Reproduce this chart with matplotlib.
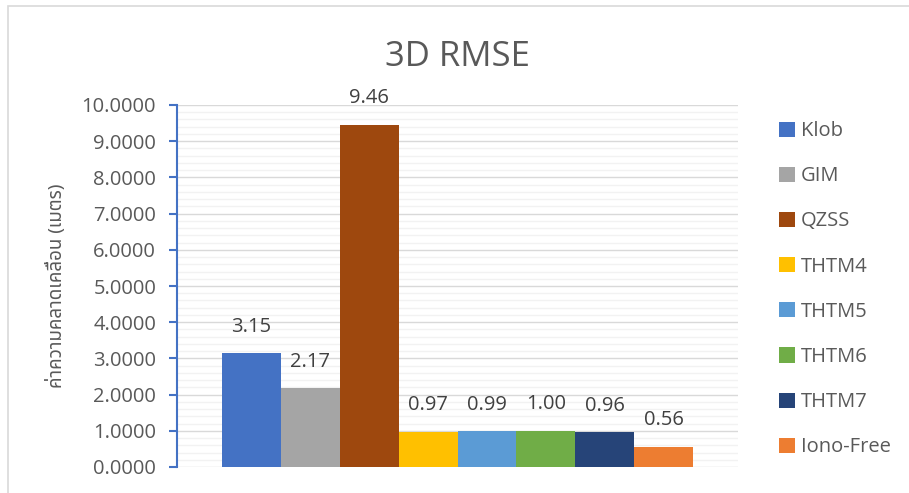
import matplotlib
matplotlib.use("Agg")
import matplotlib.pyplot as plt
import numpy as np
from matplotlib import font_manager as fm
from matplotlib.patches import Rectangle
from matplotlib.ticker import MultipleLocator, FormatStrFormatter

series = ["Klob", "GIM", "QZSS", "THTM4", "THTM5", "THTM6", "THTM7", "Iono-Free"]
rmse = [3.15, 2.17, 9.46, 0.97, 0.99, 1.00, 0.96, 0.56]
colors = ["#4472C4", "#A5A5A5", "#9E480E", "#FFC000",
          "#5B9BD5", "#70AD47", "#264478", "#ED7D31"]

title = "3D RMSE"
ylabel = "ค่าความคลาดเคลื่อน (เมตร)"

# pick a font that can draw Thai for the axis label
installed = {f.name for f in fm.fontManager.ttflist}
thai_font = "DejaVu Sans"
for name in ["Noto Sans Thai", "Sarabun", "Bai Jamjuree", "Anuphan", "Athiti"]:
    if name in installed:
        thai_font = name
        break

plt.rcParams["font.family"] = ["Open Sans", "DejaVu Sans"]
txt = "#595959"

fig = plt.figure(figsize=(9.09, 4.93), dpi=100)
ax = fig.add_axes([177 / 909, 1 - 467 / 493, 561 / 909, 362 / 493])

n = len(series)
pos = np.arange(n) - (n - 1) / 2
bars = ax.bar(pos, rmse, width=1.0, color=colors, label=series, zorder=3)

for b, v in zip(bars, rmse):
    ax.annotate(f"{v:.2f}", (b.get_x() + b.get_width() / 2, v),
                xytext=(0, 19), textcoords="offset points",
                ha="center", va="center", fontsize=14.5, color="#404040")

gap = 0.763
ax.set_xlim(pos[0] - 0.5 - gap, pos[-1] + 0.5 + gap)
ax.set_ylim(0, 10)
ax.yaxis.set_major_locator(MultipleLocator(1))
ax.yaxis.set_minor_locator(MultipleLocator(0.2))
ax.yaxis.set_major_formatter(FormatStrFormatter("%.4f"))
ax.grid(axis="y", which="major", color="#D9D9D9", linewidth=1.0, zorder=0)
ax.grid(axis="y", which="minor", color="#F2F2F2", linewidth=1.0, zorder=0)
ax.set_axisbelow(True)

ax.set_xticks([])
for s in ["top", "right", "bottom"]:
    ax.spines[s].set_visible(False)
ax.spines["left"].set_color("#4472C4")
ax.spines["left"].set_linewidth(1.5)
ax.tick_params(axis="y", which="major", direction="out", length=6, width=1.5,
               color="#4472C4", labelsize=14.5, labelcolor=txt, pad=9)
ax.tick_params(axis="y", which="minor", length=0)

ax.set_title(title, fontsize=25, color=txt, pad=28)
ax.set_ylabel(ylabel, family=[thai_font, "DejaVu Sans"], fontsize=13.5,
              color=txt, labelpad=11)

ax.legend(loc="upper left", bbox_to_anchor=(761 / 909, 1 - 103 / 493),
          bbox_transform=fig.transFigure, frameon=False, fontsize=14.5,
          handlelength=0.78, handleheight=0.78, handletextpad=0.3,
          labelspacing=1.25, labelcolor=txt)

# outer chart frame
fig.patches.append(Rectangle((8 / 909, -0.1), 1.2, 1.1 - 6 / 493,
                             transform=fig.transFigure, fill=False,
                             edgecolor="#D9D9D9", linewidth=1.2))

fig.savefig("out.png", dpi=100)
